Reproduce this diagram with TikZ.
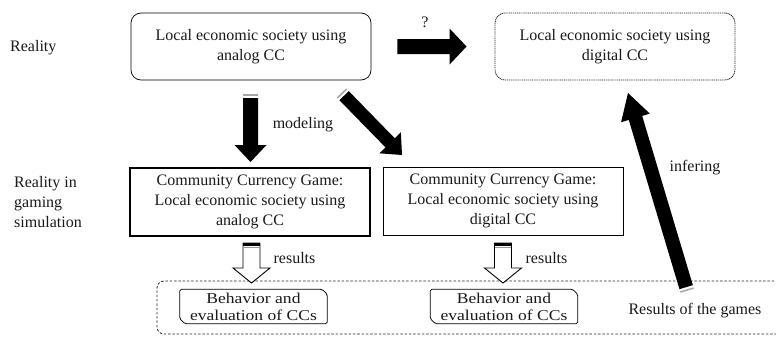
\documentclass[tikz,border=0pt]{standalone}
\usepackage{fontspec}
\setmainfont{Liberation Serif}
\newfontfamily\evalfont[FakeStretch=1.17]{Liberation Serif}
\usetikzlibrary{calc}
\newcommand\blkarrow[6]{%
  \coordinate (hb) at ($(#2)!#5!(#1)$);
  \path[#6] ($(#1)!#3!90:(#2)$) -- ($(hb)!#3!90:(#2)$) -- ($(hb)!#4!90:(#2)$) -- (#2)
    -- ($(hb)!#4!-90:(#2)$) -- ($(hb)!#3!-90:(#2)$) -- ($(#1)!#3!-90:(#2)$) -- cycle;}
\newcommand\tailstripe[4]{%
  \draw[#4] ($(#1)!#3!90:(#2)$) -- ($(#1)!#3!-90:(#2)$);}
\begin{document}
\begin{tikzpicture}[x=1pt,y=1pt,
  lbl/.style={font=\fontsize{16}{20}\selectfont, inner sep=0pt, align=center, text=black!90},
  realbox/.style={lbl, draw, rounded corners=10pt, minimum width=240pt, minimum height=67pt, line width=0.7pt},
  gamebox/.style={lbl, draw, minimum width=240pt, minimum height=68pt},
  evalbox/.style={font=\evalfont\fontsize{15}{17}\selectfont, align=center, inner sep=0pt, text=black!90,
                  minimum width=147pt, minimum height=34pt},
  evalframe/.style={draw, line width=0.8pt, rounded corners=1.5pt},
  solidarrow/.style={fill=black},
  hollowarrow/.style={draw=black, fill=white, line width=0.9pt, line join=miter},
  stripe/.style={draw=black!35, line width=1.5pt},
]
\useasboundingbox (0,0) rectangle (776,-338);

% boxes
\node[realbox] (r1) at (251,-46.5) {Local economic society using\\analog CC};
\node[realbox, draw=black!85, line width=0.9pt, dash pattern=on 1.1pt off 0.8pt] (r2) at (615,-46.5) {Local economic society using\\digital CC};
\node[gamebox, line width=1.3pt] (g1) at (250,-202) {Community Currency Game:\\Local economic society using\\analog CC};
\node[gamebox, line width=0.8pt] (g2) at (503,-201) {Community Currency Game:\\Local economic society using\\digital CC};

% container of results
\node[draw=black!85, line width=0.8pt, dash pattern=on 2.5pt off 1.8pt, rounded corners=7pt, inner sep=0pt,
      minimum width=650pt, minimum height=53pt] (cont) at (482,-307.5) {};

% evaluation boxes
\node[evalbox] (e1) at (253.5,-306.5) {Behavior and\\evaluation of CCs};
\node[evalbox] (e2) at (504,-306.5) {Behavior and\\evaluation of CCs};
\foreach \e in {e1,e2}{
  \draw[evalframe] (\e.north west) -- ($(\e.north east)+(-5,0)$) -- ($(\e.north east)+(0,-5)$)
    -- (\e.south east) -- ($(\e.south west)+(5,0)$) -- ($(\e.south west)+(0,5)$) -- cycle;
}

% labels
\node[lbl, anchor=west] (lr) at (10,-48) {Reality};
\node[lbl, anchor=west, align=left] (lg) at (14,-202) {Reality in\\gaming\\simulation};
\node[lbl] (q) at (425,-22) {?};
\node[lbl] (mod) at (303,-125) {modeling};
\node[lbl] (inf) at (695,-168) {infering};
\node[lbl] (res1) at (294.5,-258) {results};
\node[lbl] (res2) at (546.5,-258) {results};
\node[lbl] (rg) at (695,-311) {Results of the games};

% arrow end points
\coordinate (qa) at ($(r1.east)+(26,0)$);
\coordinate (qb) at ($(r2.west)+(-28,0)$);
\coordinate (ma) at (250.5,-95);
\coordinate (mb) at (250.5,-162);
\coordinate (da) at (342,-93.5);
\coordinate (db) at (402,-155);
\coordinate (ia) at (687,-290);
\coordinate (ib) at (628,-93);
\coordinate (h1a) at (251.5,-243);
\coordinate (h1b) at (251.5,-283);
\coordinate (h2a) at (503,-243);
\coordinate (h2b) at (503,-283);

% "?" arrow
\blkarrow{qa}{qb}{7.5pt}{18pt}{17pt}{solidarrow}

% modeling arrows
\coordinate (ma2) at ($(ma)!3pt!(mb)$);
\blkarrow{ma2}{mb}{7.5pt}{16pt}{17pt}{solidarrow}
\tailstripe{ma}{mb}{7.5pt}{stripe}
\coordinate (da2) at ($(da)!3pt!(db)$);
\blkarrow{da2}{db}{6.5pt}{15pt}{17pt}{solidarrow}
\tailstripe{da}{db}{6.5pt}{stripe}

% infering arrow
\coordinate (ia2) at ($(ia)!3pt!(ib)$);
\blkarrow{ia2}{ib}{7pt}{15pt}{26pt}{solidarrow}
\tailstripe{ia}{ib}{7pt}{stripe}

% results arrows (hollow)
\foreach \a/\b in {h1a/h1b,h2a/h2b}{
  \blkarrow{\a}{\b}{8.5pt}{18.5pt}{15pt}{hollowarrow}
  \fill ($(\a)+(-8.5,0)$) rectangle ($(\a)+(8.5,-3)$);
  \draw[black!40, line width=1pt] ($(\a)+(-8,-4)$) -- ($(\a)+(8,-4)$);
}
\end{tikzpicture}
\end{document}
